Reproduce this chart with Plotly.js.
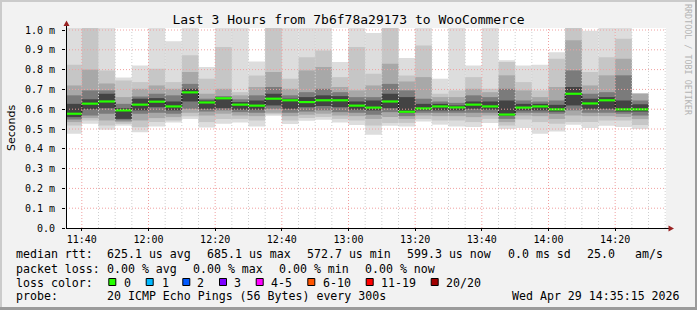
<!DOCTYPE html>
<html><head><meta charset="utf-8">
<script src="https://cdn.plot.ly/plotly-3.0.1.min.js"></script>
<style>
html,body{margin:0;padding:0;background:#f2f2f2;}
#wrap{position:relative;width:697px;height:310px;overflow:hidden;}
#chart{width:697px;height:310px;}
.b{position:absolute;}
</style></head><body>
<div id="wrap"><div id="chart"></div>
<div class="b" style="left:0;top:0;width:697px;height:2px;background:#cbcbcb"></div>
<div class="b" style="left:0;top:0;width:2px;height:310px;background:#cbcbcb"></div>
<div class="b" style="right:0;top:0;width:2px;height:310px;background:#9b9b9b"></div>
<div class="b" style="left:0;bottom:0;width:697px;height:3px;background:#9b9b9b"></div>
</div>
<script>
// ---------------- data (milliseconds) ----------------
const DAY = '2026-04-29 ';
const slotStart = ["11:35","11:40","11:45","11:50","11:55","12:00","12:05","12:10","12:15","12:20","12:25","12:30","12:35","12:40","12:45","12:50","12:55","13:00","13:05","13:10","13:15","13:20","13:25","13:30","13:35","13:40","13:45","13:50","13:55","14:00","14:05","14:10","14:15","14:20","14:25"];
const median = [0.577,0.628,0.639,0.594,0.623,0.638,0.614,0.685,0.634,0.655,0.623,0.618,0.653,0.645,0.636,0.645,0.645,0.618,0.608,0.639,0.587,0.604,0.614,0.609,0.623,0.614,0.573,0.608,0.614,0.599,0.678,0.629,0.645,0.599,0.599];
// smoke layers: outermost (1) to innermost (5)
const hi1 = [1.05,1.05,1.05,0.760,0.821,1.05,0.943,1.05,0.813,1.05,1.05,0.841,1.05,1.05,1.05,1.05,0.838,1.05,0.985,1.05,0.859,1.05,0.754,1.05,0.821,1.05,0.847,0.821,0.824,0.887,1.05,0.996,1.05,1.05,0.680];
const hi2 = [0.825,1.05,0.796,0.745,0.737,0.804,0.737,0.872,0.754,0.914,0.686,0.770,1.05,0.754,0.863,0.897,0.762,0.914,0.779,1.05,0.770,0.922,0.678,0.695,0.762,0.703,0.838,0.737,0.695,0.855,1.05,0.788,0.863,0.956,0.680];
const hi3 = [0.720,0.800,0.730,0.661,0.703,0.720,0.703,0.788,0.678,0.703,0.670,0.712,0.788,0.703,0.796,0.813,0.712,0.695,0.720,0.830,0.740,0.762,0.661,0.661,0.703,0.686,0.771,0.695,0.661,0.712,0.948,0.720,0.771,0.855,0.678];
const hi4 = [0.670,0.695,0.695,0.627,0.664,0.678,0.670,0.728,0.653,0.666,0.650,0.670,0.712,0.670,0.686,0.703,0.686,0.661,0.661,0.728,0.695,0.653,0.639,0.632,0.670,0.661,0.703,0.644,0.639,0.644,0.796,0.678,0.686,0.771,0.644];
const hi5 = [0.627,0.650,0.678,0.605,0.653,0.656,0.639,0.703,0.644,0.656,0.636,0.644,0.678,0.653,0.661,0.670,0.666,0.639,0.644,0.678,0.661,0.627,0.627,0.619,0.639,0.639,0.644,0.627,0.627,0.622,0.712,0.653,0.661,0.644,0.625];
const lo5 = [0.560,0.600,0.605,0.551,0.594,0.610,0.594,0.639,0.602,0.605,0.598,0.598,0.619,0.602,0.610,0.616,0.610,0.598,0.594,0.605,0.582,0.594,0.594,0.594,0.602,0.598,0.568,0.594,0.594,0.588,0.619,0.602,0.602,0.588,0.588];
const lo4 = [0.548,0.568,0.577,0.543,0.577,0.582,0.577,0.602,0.588,0.594,0.585,0.582,0.602,0.582,0.588,0.594,0.585,0.582,0.572,0.585,0.565,0.582,0.582,0.582,0.582,0.582,0.551,0.582,0.582,0.577,0.594,0.582,0.582,0.577,0.568];
const lo3 = [0.535,0.555,0.543,0.535,0.543,0.555,0.560,0.582,0.568,0.577,0.568,0.565,0.582,0.565,0.572,0.577,0.568,0.565,0.551,0.560,0.551,0.568,0.565,0.565,0.560,0.568,0.535,0.568,0.565,0.551,0.568,0.565,0.565,0.560,0.550];
const lo2 = [0.518,0.543,0.518,0.526,0.509,0.535,0.543,0.565,0.535,0.551,0.551,0.543,0.575,0.543,0.555,0.560,0.551,0.543,0.518,0.530,0.531,0.551,0.543,0.543,0.535,0.551,0.518,0.548,0.535,0.526,0.535,0.535,0.543,0.543,0.520];
const lo1 = [0.476,0.527,0.496,0.517,0.483,0.513,0.533,0.551,0.508,0.527,0.533,0.513,0.567,0.525,0.542,0.547,0.533,0.520,0.471,0.517,0.513,0.538,0.522,0.513,0.510,0.530,0.500,0.505,0.476,0.488,0.522,0.505,0.517,0.510,0.500];
const yTickVals = [0,0.1,0.2,0.3,0.4,0.5,0.6,0.7,0.8,0.9,1.0];
const yTickText = ['0.0','0.1 m','0.2 m','0.3 m','0.4 m','0.5 m','0.6 m','0.7 m','0.8 m','0.9 m','1.0 m'];
const titleText = 'Last 3 Hours from 7b6f78a29173 to WooCommerce';
const statLine1 = ['median rtt:','625.1 us avg','685.1 us max','572.7 us min','599.3 us now','0.0 ms sd','25.0','am/s'];
const statLine2 = ['packet loss:','0.00 % avg','0.00 % max','0.00 % min','0.00 % now'];
const lossLabels = ['0','1','2','3','4-5','6-10','11-19','20/20'];
const lossColors = ['#26ff00','#00b8ff','#0059ff','#7e00ff','#ff00ff','#ff5500','#ff0000','#a10000'];
const probeText = '20 ICMP Echo Pings (56 Bytes) every 300s';
const stampText = 'Wed Apr 29 14:35:15 2026';

// ---------------- helpers ----------------
const SLOT_MS = 300000;
function pad(n){return (n<10?'0':'')+n;}
function at(hhmm, addSec){
  const p = hhmm.split(':').map(Number);
  const s = p[0]*3600 + p[1]*60 + addSec;
  return DAY + pad(Math.floor(s/3600)) + ':' + pad(Math.floor(s%3600/60)) + ':' + pad(s%60);
}
// pixel -> paper for the fixed 697x310 page
const L = 66, T = 28, PW = 600, PH = 200;
const px = x => (x - L) / PW;
const py = y => (T + PH - y) / PH;

// ---------------- traces ----------------
const traces = [];
const layers = [
  {hi:hi1, lo:lo1, c:'#dddddd'},
  {hi:hi2, lo:lo2, c:'#c6c6c6'},
  {hi:hi3, lo:lo3, c:'#a8a8a8'},
  {hi:hi4, lo:lo4, c:'#7b7b7b'},
  {hi:hi5, lo:lo5, c:'#434343'}
];
const centers = slotStart.map(s => at(s, 150));
layers.forEach(ly => {
  traces.push({
    type:'bar', x:centers, base:ly.lo, y:ly.hi.map((h,i)=>h-ly.lo[i]),
    width:SLOT_MS, marker:{color:ly.c, line:{width:0}}, hoverinfo:'skip'
  });
});
// thin dark median step
const stepX = slotStart.map(s => at(s,0)).concat([at(slotStart[slotStart.length-1],300)]);
const stepY = median.concat([median[median.length-1]]);
traces.push({type:'scatter', mode:'lines', x:stepX, y:stepY, line:{shape:'hv', color:'#1a1a1a', width:1}, hoverinfo:'skip'});
// green median segments (loss 0)
const gx = [], gy = [];
slotStart.forEach((s,i) => { gx.push(at(s,0), at(s,300), null); gy.push(median[i], median[i], null); });
traces.push({type:'scatter', mode:'lines', x:gx, y:gy, line:{color:'#26ff00', width:2.2}, hoverinfo:'skip'});

// ---------------- shapes: grid, arrows, legend boxes ----------------
const shapes = [];
for (let m = 11*60+40; m <= 14*60+35; m += 5) {
  const hh = Math.floor(m/60), mm = m%60;
  const major = (mm % 20 === 0);
  shapes.push({type:'line', layer:'above', xref:'x', yref:'paper', x0:DAY+pad(hh)+':'+pad(mm)+':00', x1:DAY+pad(hh)+':'+pad(mm)+':00', y0:0, y1:1,
    line:{color: major ? '#f0a0a0' : '#cfcfcf', width:1, dash:'1px,2px'}});
}
yTickVals.slice(1).forEach(v => {
  shapes.push({type:'line', layer:'above', xref:'paper', yref:'y', x0:0, x1:1, y0:v, y1:v,
    line:{color:'#f0a0a0', width:1, dash:'1px,2px'}});
});
// axis extensions and arrows
shapes.push({type:'line', layer:'above', xref:'paper', yref:'paper', x0:px(66.5), x1:px(66.5), y0:py(228), y1:py(25), line:{color:'#000', width:1}});
shapes.push({type:'line', layer:'above', xref:'paper', yref:'paper', x0:px(66), x1:px(669), y0:py(228.5), y1:py(228.5), line:{color:'#000', width:1}});
shapes.push({type:'path', layer:'above', xref:'paper', yref:'paper',
  path:`M ${px(66.5)},${py(20.5)} L ${px(63.5)},${py(26)} L ${px(69.5)},${py(26)} Z`, fillcolor:'#992222', line:{width:0}});
shapes.push({type:'path', layer:'above', xref:'paper', yref:'paper',
  path:`M ${px(674)},${py(228.5)} L ${px(668.5)},${py(225.5)} L ${px(668.5)},${py(231.5)} Z`, fillcolor:'#992222', line:{width:0}});

// ---------------- annotations ----------------
const F = {family:'DejaVu Sans Mono', size:11.6, color:'#000'};
const ann = [];
function txt(x, y, t, anchor){ ann.push({xref:'paper', yref:'paper', x:px(x), y:py(y), text:t, showarrow:false, xanchor:anchor||'left', yanchor:'middle', font:F, borderpad:0}); }
const line1X = [15, 106.3, 206.3, 306.3, 406, 506.7, 585.7, 634];
statLine1.forEach((t,i)=>txt(line1X[i], 254.3, t));
const line2X = [15, 106.3, 192.3, 278.3, 364.3];
statLine2.forEach((t,i)=>txt(line2X[i], 268.5, t));
txt(15, 282.5, 'loss color:');
const boxX = [108.3, 145.7, 182.3, 219, 255.7, 307.3, 365.7, 430.7];
const labX = [123, 160.7, 196.3, 233, 269.7, 321.7, 379.7, 445];
lossLabels.forEach((t,i)=>{
  shapes.push({type:'rect', layer:'above', xref:'paper', yref:'paper', x0:px(boxX[i]+0.5), x1:px(boxX[i]+7.5), y0:py(278.5), y1:py(285.5),
    fillcolor:lossColors[i], line:{color:'#000', width:1}});
  txt(labX[i], 282.5, t);
});
txt(15, 295.5, 'probe:');
txt(106.3, 295.5, probeText);
txt(681, 295.5, stampText, 'right');
// y title
ann.push({xref:'paper', yref:'paper', x:px(11), y:py(128), text:'Seconds', showarrow:false, textangle:-90, xanchor:'center', yanchor:'middle', font:{family:'DejaVu Sans', size:11, color:'#000'}});
// side credit
ann.push({xref:'paper', yref:'paper', x:px(688), y:py(60), text:'RRDTOOL / TOBI OETIKER', showarrow:false, textangle:90, xanchor:'center', yanchor:'middle', font:{family:'DejaVu Sans Mono', size:8.4, color:'#b4b4b4'}});

const layout = {
  width:697, height:310,
  margin:{l:L, r:697-L-PW, t:T, b:310-T-PH, pad:0},
  paper_bgcolor:'#f2f2f2', plot_bgcolor:'#ffffff',
  showlegend:false, barmode:'overlay', hovermode:false,
  font:{family:'DejaVu Sans Mono', size:10, color:'#000'},
  title:{text:titleText, font:{family:'DejaVu Sans Mono', size:13, color:'#000'}, x:0.5, xref:'container', xanchor:'center', y:1-19/310, yref:'container', yanchor:'middle'},
  xaxis:{type:'date', range:[DAY+'11:35:15', DAY+'14:35:15'], tickformat:'%H:%M', dtick:1200000, tick0:DAY+'11:40:00',
    showgrid:false, zeroline:false, showline:false, ticks:'outside', ticklen:2, tickcolor:'#000', tickfont:{family:'DejaVu Sans Mono', size:10}, fixedrange:true},
  yaxis:{range:[0, PH/198], tickmode:'array', tickvals:yTickVals, ticktext:yTickText, showgrid:false, zeroline:false, showline:false,
    ticks:'outside', ticklen:3, tickcolor:'#000', ticklabelstandoff:5, tickfont:{family:'DejaVu Sans Mono', size:10}, fixedrange:true},
  shapes:shapes, annotations:ann
};
Plotly.newPlot('chart', traces, layout, {staticPlot:true, displayModeBar:false});
</script>
</body></html>
